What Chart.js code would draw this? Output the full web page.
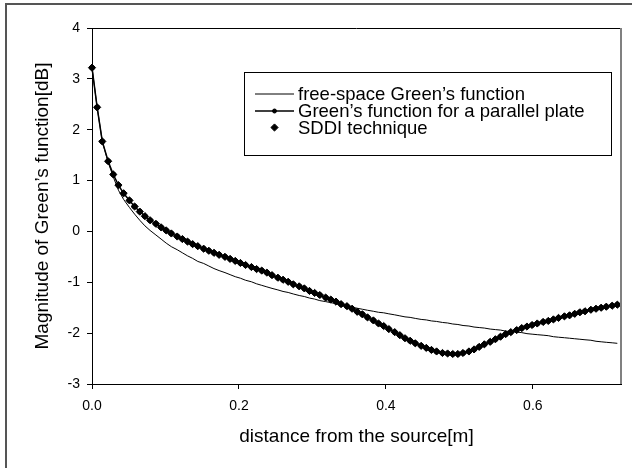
<!DOCTYPE html>
<html>
<head>
<meta charset="utf-8">
<script src="https://cdn.jsdelivr.net/npm/chart.js@4/dist/chart.umd.min.js"></script>
<style>
  html, body { margin: 0; padding: 0; background: #fff; }
</style>
</head>
<body>
<canvas id="greenChart" width="632" height="468"></canvas>
<script>
// distance from the source [m]
var distance = [
  0, 0.007, 0.014, 0.022, 0.029, 0.036, 0.043, 0.051, 0.058, 0.065,
  0.072, 0.079, 0.087, 0.094, 0.101, 0.108, 0.116, 0.123, 0.130, 0.137,
  0.144, 0.152, 0.159, 0.166, 0.173, 0.181, 0.188, 0.195, 0.202, 0.209,
  0.217, 0.224, 0.231, 0.238, 0.245, 0.253, 0.260, 0.267, 0.274, 0.282,
  0.289, 0.296, 0.303, 0.310, 0.318, 0.325, 0.332, 0.339, 0.347, 0.354,
  0.361, 0.368, 0.375, 0.383, 0.390, 0.397, 0.404, 0.412, 0.419, 0.426,
  0.433, 0.440, 0.448, 0.455, 0.462, 0.469, 0.477, 0.484, 0.491, 0.498,
  0.505, 0.513, 0.520, 0.527, 0.534, 0.542, 0.549, 0.556, 0.563, 0.570,
  0.578, 0.585, 0.592, 0.599, 0.606, 0.614, 0.621, 0.628, 0.635, 0.643,
  0.650, 0.657, 0.664, 0.671, 0.679, 0.686, 0.693, 0.700, 0.708, 0.715
];

// free-space Green's function [dB]
var freeSpaceDb = [
  3.22, 2.44, 1.77, 1.36, 1.07, 0.81, 0.63, 0.47, 0.34, 0.22,
  0.11, 0.02, -0.07, -0.15, -0.23, -0.30, -0.36, -0.42, -0.48, -0.53,
  -0.59, -0.63, -0.68, -0.73, -0.77, -0.81, -0.85, -0.89, -0.92, -0.96,
  -0.99, -1.03, -1.06, -1.09, -1.12, -1.15, -1.18, -1.20, -1.23, -1.26,
  -1.28, -1.31, -1.33, -1.36, -1.38, -1.40, -1.42, -1.45, -1.47, -1.49,
  -1.51, -1.53, -1.55, -1.57, -1.59, -1.60, -1.62, -1.64, -1.66, -1.68,
  -1.69, -1.71, -1.73, -1.74, -1.76, -1.77, -1.79, -1.80, -1.82, -1.83,
  -1.85, -1.86, -1.88, -1.89, -1.90, -1.92, -1.93, -1.94, -1.96, -1.97,
  -1.98, -1.99, -2.01, -2.02, -2.03, -2.04, -2.05, -2.07, -2.08, -2.09,
  -2.10, -2.11, -2.12, -2.13, -2.14, -2.16, -2.17, -2.18, -2.19, -2.20
];

// Green's function for a parallel plate [dB]
var parallelPlateDb = [
  3.22, 2.44, 1.77, 1.38, 1.12, 0.91, 0.75, 0.61, 0.49, 0.39,
  0.30, 0.22, 0.15, 0.08, 0.02, -0.04, -0.10, -0.15, -0.20, -0.25,
  -0.29, -0.34, -0.38, -0.42, -0.46, -0.50, -0.54, -0.58, -0.62, -0.66,
  -0.70, -0.74, -0.77, -0.81, -0.86, -0.91, -0.95, -0.99, -1.04, -1.08,
  -1.12, -1.17, -1.21, -1.25, -1.30, -1.34, -1.38, -1.43, -1.47, -1.52,
  -1.58, -1.63, -1.69, -1.75, -1.81, -1.86, -1.92, -1.98, -2.04, -2.10,
  -2.15, -2.20, -2.25, -2.29, -2.33, -2.36, -2.39, -2.40, -2.41, -2.41,
  -2.39, -2.36, -2.32, -2.27, -2.22, -2.17, -2.12, -2.07, -2.02, -1.98,
  -1.94, -1.90, -1.87, -1.84, -1.81, -1.78, -1.76, -1.73, -1.70, -1.67,
  -1.65, -1.62, -1.59, -1.57, -1.54, -1.52, -1.50, -1.48, -1.46, -1.44
];

// SDDI technique [dB]
var sddiDb = [
  3.22, 2.44, 1.77, 1.38, 1.12, 0.91, 0.75, 0.61, 0.49, 0.39,
  0.30, 0.22, 0.15, 0.08, 0.02, -0.04, -0.10, -0.15, -0.20, -0.25,
  -0.29, -0.34, -0.38, -0.42, -0.46, -0.50, -0.54, -0.58, -0.62, -0.66,
  -0.70, -0.74, -0.77, -0.81, -0.86, -0.91, -0.95, -0.99, -1.04, -1.08,
  -1.12, -1.17, -1.21, -1.25, -1.30, -1.34, -1.38, -1.43, -1.47, -1.52,
  -1.58, -1.63, -1.69, -1.75, -1.81, -1.86, -1.92, -1.98, -2.04, -2.10,
  -2.15, -2.20, -2.25, -2.29, -2.33, -2.36, -2.39, -2.40, -2.41, -2.41,
  -2.39, -2.36, -2.32, -2.27, -2.22, -2.17, -2.12, -2.07, -2.02, -1.98,
  -1.94, -1.90, -1.87, -1.84, -1.81, -1.78, -1.76, -1.73, -1.70, -1.67,
  -1.65, -1.62, -1.59, -1.57, -1.54, -1.52, -1.50, -1.48, -1.46, -1.44
];

var seriesLabels = ['free-space Green\u2019s function', 'Green\u2019s function for a parallel plate', 'SDDI technique'];
var xTicks = [0, 0.2, 0.4, 0.6];
var yTicks = [-3, -2, -1, 0, 1, 2, 3, 4];

var FONT = "'Liberation Sans', Arial, sans-serif";

function toPoints(values) {
  return distance.map(function (x, i) { return { x: x, y: values[i] }; });
}

// white background, outer frame, plot-area top/right edges
var framePlugin = {
  id: 'frame',
  beforeDraw: function (chart) {
    var ctx = chart.ctx;
    ctx.save();
    ctx.fillStyle = '#fff';
    ctx.fillRect(0, 0, chart.width, chart.height);
    ctx.strokeStyle = '#555';
    ctx.lineWidth = 2;
    ctx.beginPath();
    ctx.moveTo(6, chart.height);
    ctx.lineTo(6, 4);
    ctx.lineTo(chart.width, 4);
    ctx.stroke();
    ctx.restore();
  },
  afterDraw: function (chart) {
    var ctx = chart.ctx, a = chart.chartArea;
    ctx.save();
    ctx.strokeStyle = '#000';
    ctx.lineWidth = 1;
    ctx.beginPath();
    ctx.moveTo(a.left, Math.round(a.top) + 0.5);
    ctx.lineTo(a.right, Math.round(a.top) + 0.5);
    ctx.stroke();
    ctx.strokeStyle = '#808080';
    ctx.lineWidth = 2;
    ctx.beginPath();
    ctx.moveTo(Math.round(a.right), a.top);
    ctx.lineTo(Math.round(a.right), a.bottom);
    ctx.stroke();
    ctx.restore();
  }
};

// boxed legend inside the plot, Excel style
var boxLegend = {
  id: 'boxLegend',
  afterDraw: function (chart) {
    var ctx = chart.ctx;
    var box = { left: 244, top: 72, right: 611, bottom: 155 };
    var rows = [94, 111, 127.5];
    ctx.save();
    ctx.strokeStyle = '#000';
    ctx.lineWidth = 1;
    ctx.strokeRect(box.left + 0.5, box.top + 0.5, box.right - box.left, box.bottom - box.top);
    ctx.font = '18.5px ' + FONT;
    ctx.textBaseline = 'middle';
    ctx.textAlign = 'left';
    chart.data.datasets.forEach(function (ds, i) {
      var y = rows[i];
      if (ds.showLine !== false) {
        ctx.strokeStyle = ds.borderColor;
        ctx.lineWidth = ds.borderWidth;
        ctx.beginPath();
        ctx.moveTo(255, y);
        ctx.lineTo(294, y);
        ctx.stroke();
      }
      if (ds.pointRadius > 0) {
        ctx.fillStyle = ds.pointBackgroundColor;
        ctx.strokeStyle = ds.pointBorderColor;
        ctx.lineWidth = 1;
        Chart.helpers.drawPoint(ctx, { pointStyle: ds.pointStyle, radius: ds.pointRadius, rotation: 0, borderWidth: 1 }, 274.5, y);
      }
      ctx.fillStyle = '#000';
      ctx.fillText(ds.label, 298, y + 1);
    });
    ctx.restore();
  }
};

var ctx = document.getElementById('greenChart').getContext('2d');
var chart = new Chart(ctx, {
  type: 'scatter',
  data: {
    datasets: [
      {
        label: seriesLabels[0],
        data: toPoints(freeSpaceDb),
        showLine: true,
        borderColor: '#000',
        borderWidth: 1,
        pointRadius: 0,
        tension: 0,
        order: 3
      },
      {
        label: seriesLabels[1],
        data: toPoints(parallelPlateDb),
        showLine: true,
        borderColor: '#000',
        borderWidth: 1.5,
        pointStyle: 'circle',
        pointRadius: 2,
        pointBackgroundColor: '#000',
        pointBorderColor: '#000',
        tension: 0,
        clip: false,
        order: 2
      },
      {
        label: seriesLabels[2],
        data: toPoints(sddiDb),
        showLine: false,
        pointStyle: 'rectRot',
        pointRadius: 3.6,
        pointBackgroundColor: '#000',
        pointBorderColor: '#000',
        borderColor: '#000',
        pointBorderWidth: 1,
        clip: false,
        order: 1
      }
    ]
  },
  options: {
    responsive: false,
    animation: false,
    devicePixelRatio: 1,
    layout: { padding: { top: 28, right: 11, left: 0, bottom: 0 } },
    plugins: {
      legend: { display: false },
      tooltip: { enabled: false }
    },
    scales: {
      x: {
        type: 'linear',
        min: 0,
        max: 0.72,
        afterBuildTicks: function (scale) {
          scale.ticks = xTicks.map(function (v) { return { value: v }; });
        },
        afterFit: function (scale) { scale.height = 84; },
        ticks: {
          color: '#000',
          font: { family: FONT, size: 14 },
          padding: 9,
          maxRotation: 0,
          autoSkip: false,
          callback: function (v) { return Number(v).toFixed(1); }
        },
        grid: { drawOnChartArea: false, drawTicks: true, tickLength: 5, tickColor: '#000', tickWidth: 1 },
        border: { display: true, color: '#000', width: 1 },
        title: {
          display: true,
          text: 'distance from the source[m]',
          color: '#000',
          font: { family: FONT, size: 19 },
          padding: { top: 0, bottom: 20 }
        }
      },
      y: {
        type: 'linear',
        min: -3,
        max: 4,
        afterBuildTicks: function (scale) {
          scale.ticks = yTicks.map(function (v) { return { value: v }; });
        },
        afterFit: function (scale) { scale.width = 92; },
        ticks: {
          color: '#000',
          font: { family: FONT, size: 14 },
          padding: 7,
          autoSkip: false,
          callback: function (v) { return String(v); }
        },
        grid: { drawOnChartArea: false, drawTicks: true, tickLength: 5, tickColor: '#000', tickWidth: 1 },
        border: { display: true, color: '#000', width: 1 },
        title: {
          display: true,
          text: 'Magnitude of Green\u2019s function[dB]',
          color: '#000',
          font: { family: FONT, size: 19 },
          padding: { top: 31, bottom: 0 }
        }
      }
    }
  },
  plugins: [framePlugin, boxLegend]
});
</script>
</body>
</html>
